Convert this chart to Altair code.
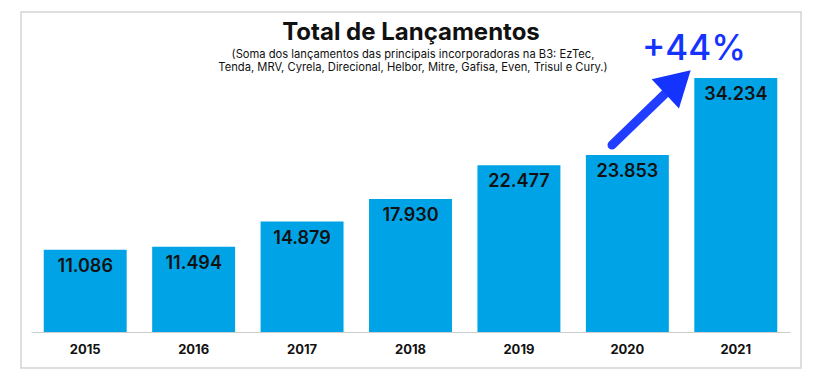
import altair as alt
import pandas as pd

years = ["2015", "2016", "2017", "2018", "2019", "2020", "2021"]
values = [11086, 11494, 14879, 17930, 22477, 23853, 34234]
labels = [f"{v:,}".replace(",", ".") for v in values]

title_text = "Total de Lançamentos"
subtitle_lines = [
    "(Soma dos lançamentos das principais incorporadoras na B3: EzTec,",
    "Tenda, MRV, Cyrela, Direcional, Helbor, Mitre, Gafisa, Even, Trisul e Cury.)",
]
growth_text = "+44%"

FONT = "Inter"
BAR = "#00A3E6"
BLUE = "#1533FF"

df = pd.DataFrame({"year": years, "value": values, "label": labels})
one = pd.DataFrame({"k": [0]})

x = alt.X("year:N", sort=years, title=None,
          scale=alt.Scale(paddingInner=0.235, paddingOuter=0.1175),
          axis=alt.Axis(labelAngle=0, ticks=False, grid=False, domainColor="#cccccc",
                        domainWidth=1, labelFont=FONT, labelFontSize=13,
                        labelFontWeight="bold", labelColor="#111111", labelPadding=11))
y = alt.Y("value:Q", title=None, scale=alt.Scale(domain=[0, 39086], nice=False), axis=None)

base = alt.Chart(df)
bars = base.mark_bar(color=BAR).encode(x=x, y=y)
text = base.mark_text(baseline="alphabetic", dy=22, font=FONT, fontSize=18,
                      fontWeight=600, color="#111111").encode(x=x, y=y, text="label:N")

ann = alt.Chart(one)
border = ann.mark_rect(fill="transparent", stroke="#d3d3d3", strokeWidth=1.5).encode(
    x=alt.value(-10), x2=alt.value(770), y=alt.value(-30), y2=alt.value(326))
title = ann.mark_text(font=FONT, fontSize=24, fontWeight="bold", color="#111111",
                      baseline="alphabetic", align="center").encode(
    x=alt.value(380), y=alt.value(-2), text=alt.value(title_text))
subtitle = ann.mark_text(font=FONT, fontSize=11.2, color="#111111", baseline="alphabetic",
                         align="center", lineHeight=13).encode(
    x=alt.value(382), y=alt.value(16), text=alt.value(subtitle_lines))
growth = ann.mark_text(font=FONT, fontSize=35, fontWeight=500, color=BLUE,
                       baseline="alphabetic", align="center").encode(
    x=alt.value(663), y=alt.value(18), text=alt.value(growth_text))
shaft = ann.mark_rule(color=BLUE, strokeWidth=9, strokeCap="round", opacity=0.95).encode(
    x=alt.value(581), y=alt.value(103), x2=alt.value(641), y2=alt.value(45))
head = ann.mark_point(shape="triangle-right", filled=True, color=BLUE, opacity=1,
                      size=1600, angle=317).encode(x=alt.value(647), y=alt.value(40))

chart = alt.layer(border, bars, text, title, subtitle, shaft, head, growth).properties(
    width=759, height=290,
    background="white",
    autosize=alt.AutoSizeParams(type="none"),
    padding={"left": 23, "top": 34, "right": 20, "bottom": 40},
).configure_view(strokeWidth=0, stroke="transparent")

chart.save("out.html", embed_options={"renderer": "svg", "actions": False})
